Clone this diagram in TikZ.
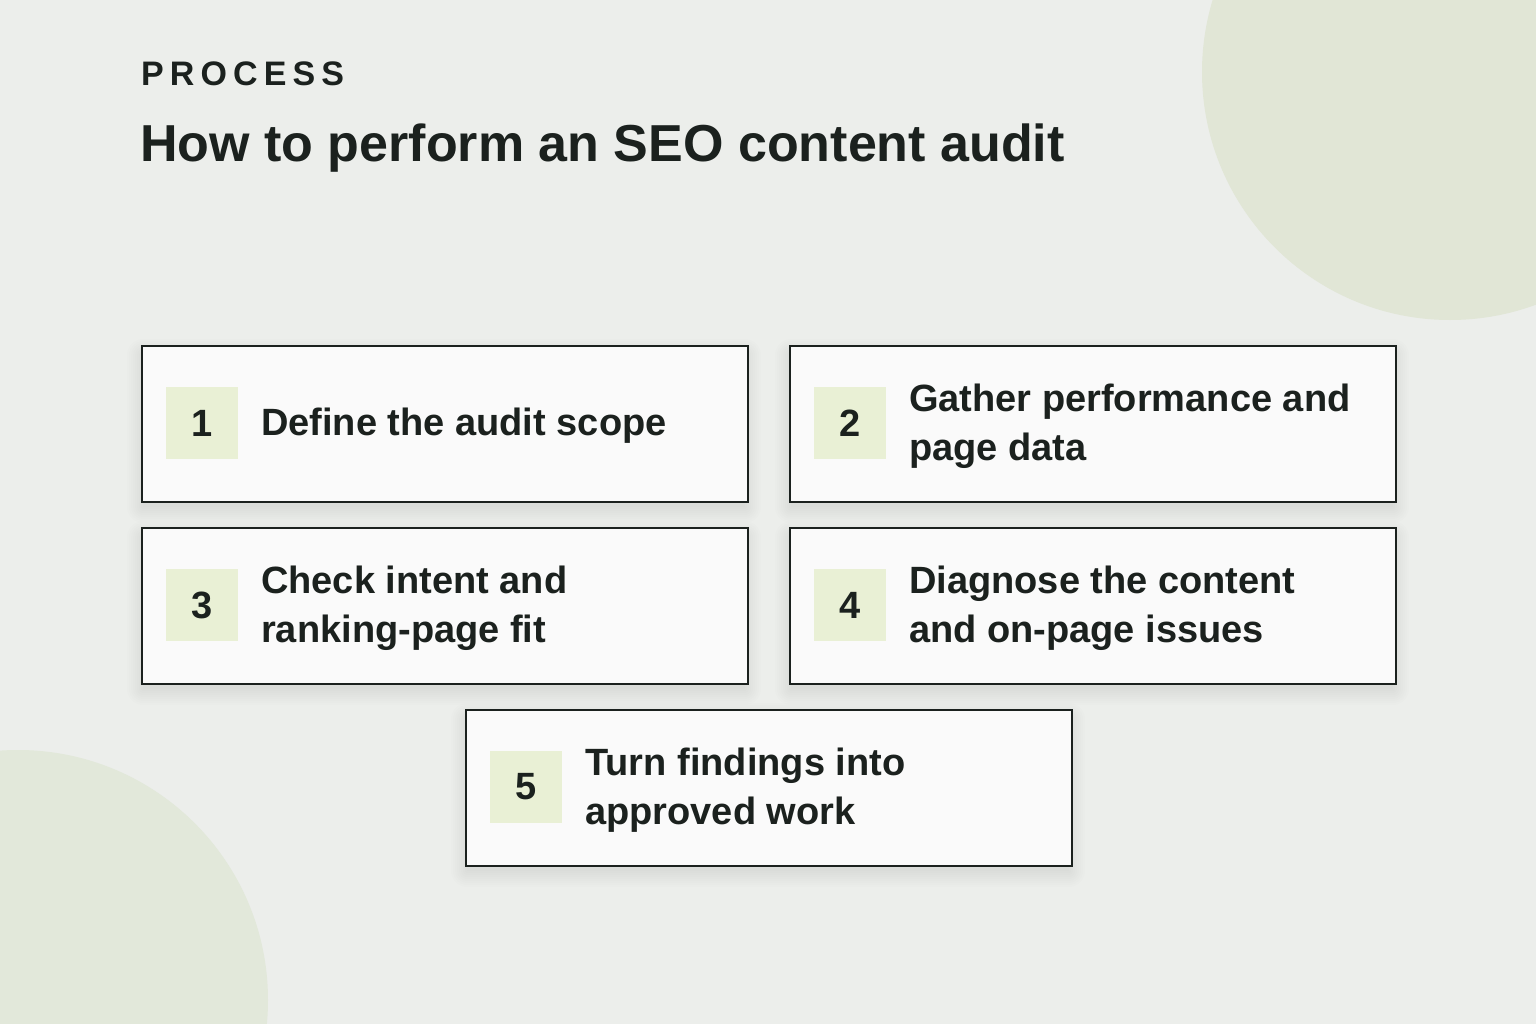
\documentclass[tikz,border=0pt]{standalone}
\usepackage{fontspec}
\setmainfont{Liberation Sans}
\newfontfamily\trackfont[LetterSpace=18]{Liberation Sans}
\definecolor{bg}{HTML}{ECEEEB}
\definecolor{circa}{HTML}{E1E6D6}
\definecolor{circb}{HTML}{E2E8DA}
\definecolor{ink}{HTML}{1B211E}
\definecolor{cardfill}{HTML}{FAFAFA}
\definecolor{numfill}{HTML}{E9F0D5}
\tikzset{
  card/.style={draw=ink, line width=2pt, fill=cardfill, minimum width=606pt, minimum height=156pt, inner sep=0pt, anchor=north west},
  numsq/.style={fill=numfill, minimum width=72pt, minimum height=72pt, inner sep=0pt, anchor=west, text=ink, font=\fontsize{38}{46}\selectfont\bfseries},
  steptext/.style={anchor=west, inner sep=0pt, align=left, text=ink, font=\fontsize{38}{49}\selectfont\bfseries},
}
\newcommand\cardshadow[2]{%
  \foreach \s in {0,2,...,16}{
    \fill[black, opacity=0.006, rounded corners=\s pt] (#1-\s+2, #2-\s+10) rectangle (#1+606+\s-2, #2+156+\s+6);
  }%
}
\begin{document}
\begin{tikzpicture}[x=1pt,y=-1pt]
\useasboundingbox (0,0) rectangle (1536,1024);
\fill[bg] (0,0) rectangle (1536,1024);
\begin{scope}
\clip (0,0) rectangle (1536,1024);
\fill[circa] (1450,72) circle (248);
\fill[circb] (18,1000) circle (250);
\end{scope}

\node[anchor=base west, inner sep=0pt, text=ink, font=\fontsize{34}{40}\selectfont\bfseries\trackfont] (kicker) at (141,86) {PROCESS};
\node[anchor=base west, inner sep=0pt, text=ink, font=\fontsize{52}{60}\selectfont\bfseries] (title) at (140,162) {How to perform an SEO content audit};

\cardshadow{141}{345}
\cardshadow{789}{345}
\cardshadow{141}{527}
\cardshadow{789}{527}
\cardshadow{465}{709}

\node[card] (c1) at (141,345) {};
\node[card] (c2) at (789,345) {};
\node[card] (c3) at (141,527) {};
\node[card] (c4) at (789,527) {};
\node[card] (c5) at (465,709) {};

\foreach \c/\n in {c1/1,c2/2,c3/3,c4/4,c5/5}{
  \node[numsq] (n\n) at ([xshift=25pt,yshift=1pt]\c.west) {\n};
}
\node[steptext] (t1) at ([xshift=120pt,yshift=-2pt]c1.west) {Define the audit scope};
\node[steptext] (t2) at ([xshift=120pt,yshift=-2pt]c2.west) {Gather performance and\\page data};
\node[steptext] (t3) at ([xshift=120pt,yshift=-2pt]c3.west) {Check intent and\\ranking-page fit};
\node[steptext] (t4) at ([xshift=120pt,yshift=-2pt]c4.west) {Diagnose the content\\and on-page issues};
\node[steptext] (t5) at ([xshift=120pt,yshift=-2pt]c5.west) {Turn findings into\\approved work};
\end{tikzpicture}
\end{document}
